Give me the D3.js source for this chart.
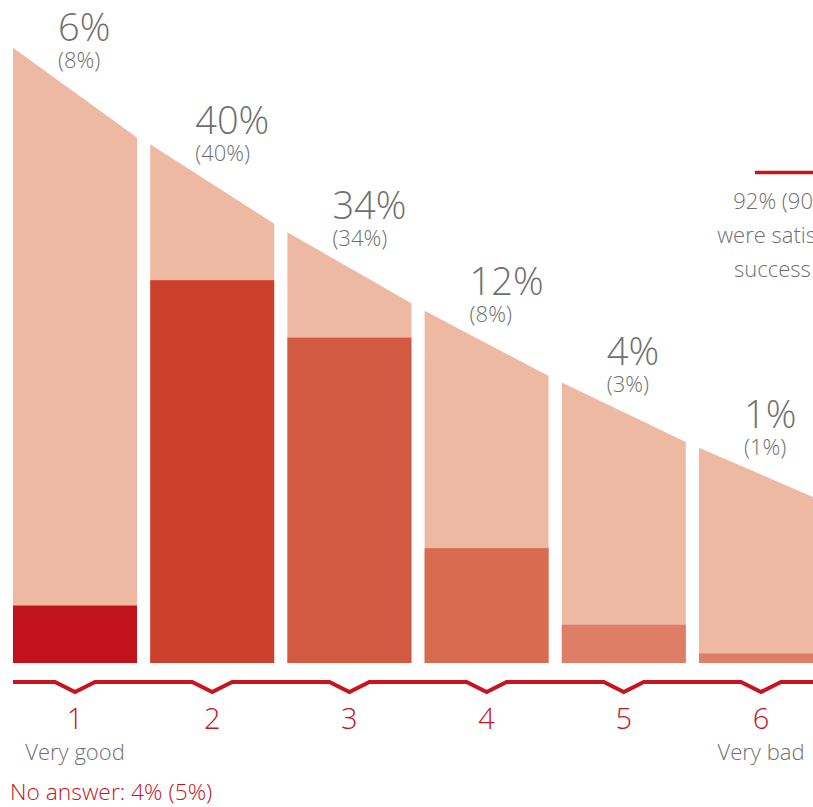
<!DOCTYPE html>
<html>
<head>
<meta charset="utf-8">
<script src="https://cdn.jsdelivr.net/npm/d3@7"></script>
<style>
  html, body { margin: 0; padding: 0; background: #fff; }
  svg { display: block; font-family: "Open Sans", "Noto Sans", sans-serif; font-weight: 300; }
</style>
</head>
<body>
<svg id="chart" width="813" height="807"></svg>
<script>
// ---- data ----
const categories = ["1", "2", "3", "4", "5", "6"];
const values = [6, 40, 34, 12, 4, 1];               // current share (%)
const previous = [8, 40, 34, 8, 3, 1];              // previous share (%)
const bgTopLeft = [64.3, 54.2, 45.0, 36.8, 29.3, 22.5];   // decorative slope (same % scale)
const bgTopRight = [54.9, 45.9, 37.6, 30.0, 23.1, 16.9];
const barColors = ["#c2131c", "#cc412b", "#d25a40", "#d96b51", "#de7e66", "#de7e66"];
const endLabels = { "1": "Very good", "6": "Very bad" };
const noAnswer = "No answer: 4% (5%)";
const noteLines = ["92% (90%)", "were satisfied", "success of"];

// ---- layout ----
const svg = d3.select("#chart");
const RED = "#c8141e", GRAY = "#707070", PINK = "#eeb9a3";
const baseY = 663;

const x = d3.scaleBand().domain(categories).range([13, 823])
  .paddingInner(13.2 / 137.2).paddingOuter(0);
const y = d3.scaleLinear().domain([0, 100]).range([baseY, baseY - 957]);

// background slope shapes
svg.append("g").selectAll("path").data(categories).join("path")
  .attr("fill", PINK)
  .attr("d", (c, i) => {
    const x0 = x(c), x1 = x(c) + x.bandwidth();
    return `M${x0},${y(0)}L${x0},${y(bgTopLeft[i])}L${x1},${y(bgTopRight[i])}L${x1},${y(0)}Z`;
  });

// value bars
svg.append("g").selectAll("rect").data(categories).join("rect")
  .attr("x", c => x(c))
  .attr("width", x.bandwidth())
  .attr("y", (c, i) => y(values[i]))
  .attr("height", (c, i) => y(0) - y(values[i]))
  .attr("fill", (c, i) => barColors[i]);

// labels following slope
const labelOff = 45;
const slopeAt = (i, px) => {
  const c = categories[i];
  const x0 = x(c), x1 = x(c) + x.bandwidth();
  const t = (px - x0) / (x1 - x0);
  return y(bgTopLeft[i] + (bgTopRight[i] - bgTopLeft[i]) * t);
};
const lab = svg.append("g").selectAll("g").data(categories).join("g");
lab.append("text")
  .attr("x", c => x(c) + labelOff)
  .attr("y", (c, i) => slopeAt(i, x(c) + labelOff) - 39)
  .attr("fill", GRAY).attr("font-size", 38)
  .text((c, i) => values[i] + "%");
lab.append("text")
  .attr("x", c => x(c) + labelOff)
  .attr("y", (c, i) => slopeAt(i, x(c) + labelOff) - 12)
  .attr("fill", GRAY).attr("font-size", 22)
  .text((c, i) => "(" + previous[i] + "%)");

// bottom axis line with notches
const axY = 682, notchHalf = 20, notchDepth = 10;
let d = `M${x(categories[0])},${axY}`;
categories.forEach(c => {
  const cx = x(c) + x.bandwidth() / 2;
  d += `L${cx - notchHalf},${axY}L${cx},${axY + notchDepth}L${cx + notchHalf},${axY}`;
});
d += `L${830},${axY}`;
svg.append("path").attr("d", d).attr("fill", "none")
  .attr("stroke", RED).attr("stroke-width", 4).attr("stroke-linejoin", "miter");

// category numbers
svg.append("g").selectAll("text").data(categories).join("text")
  .attr("x", c => x(c) + x.bandwidth() / 2)
  .attr("y", 729)
  .attr("text-anchor", "middle")
  .attr("fill", RED).attr("font-size", 29)
  .text(c => c);

// end labels
svg.append("g").selectAll("text").data(Object.keys(endLabels)).join("text")
  .attr("x", c => x(c) + x.bandwidth() / 2)
  .attr("y", 760)
  .attr("text-anchor", "middle")
  .attr("fill", GRAY).attr("font-size", 22)
  .text(c => endLabels[c]);

// no answer
svg.append("text").attr("x", 10).attr("y", 800)
  .attr("fill", RED).attr("font-size", 22.8).text(noAnswer);

// side note
const noteX = 785;
svg.append("line").attr("x1", noteX - 30).attr("x2", noteX + 30)
  .attr("y1", 172.5).attr("y2", 172.5)
  .attr("stroke", RED).attr("stroke-width", 3.5);
svg.append("g").selectAll("text").data(noteLines).join("text")
  .attr("x", noteX)
  .attr("y", (t, i) => 209 + i * 34)
  .attr("text-anchor", "middle")
  .attr("fill", GRAY).attr("font-size", 22)
  .text(t => t);
</script>
</body>
</html>
